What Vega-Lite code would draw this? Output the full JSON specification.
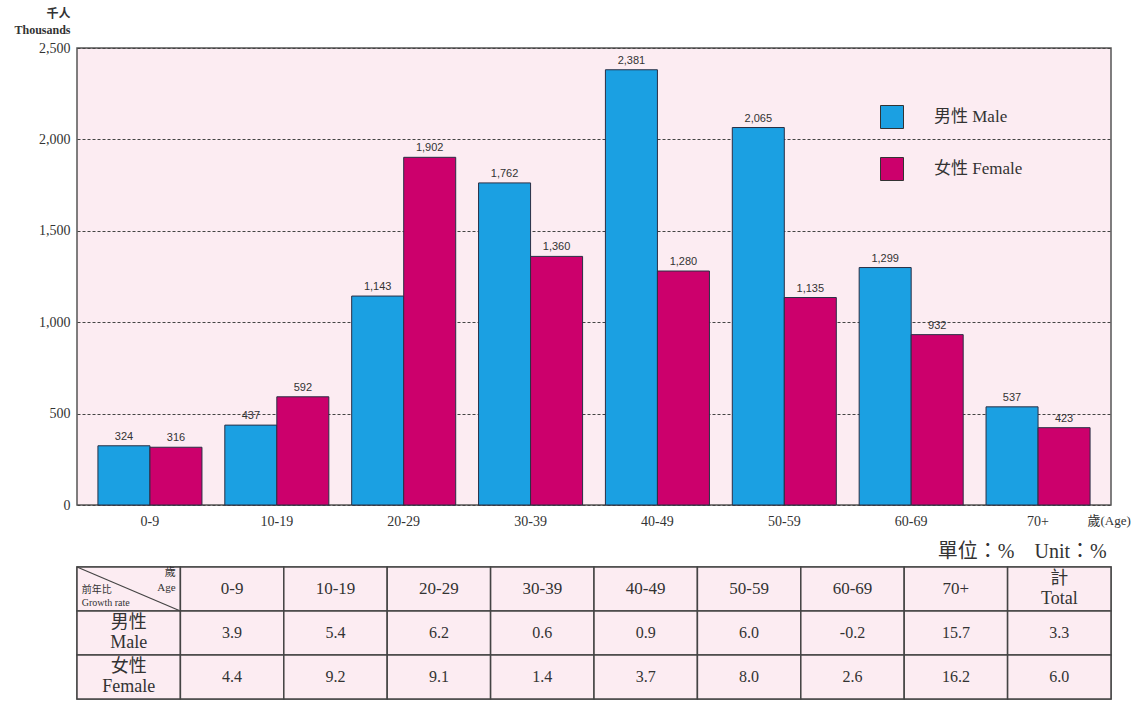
{
  "$schema": "https://vega.github.io/schema/vega-lite/v6.json",
  "padding": {"left": 13, "top": 6, "right": 5, "bottom": 0},
  "background": "white",
  "datasets": {
    "population": [
      {"age": "0-9", "sex": "男性 Male", "thousands": 324},
      {"age": "0-9", "sex": "女性 Female", "thousands": 316},
      {"age": "10-19", "sex": "男性 Male", "thousands": 437},
      {"age": "10-19", "sex": "女性 Female", "thousands": 592},
      {"age": "20-29", "sex": "男性 Male", "thousands": 1143},
      {"age": "20-29", "sex": "女性 Female", "thousands": 1902},
      {"age": "30-39", "sex": "男性 Male", "thousands": 1762},
      {"age": "30-39", "sex": "女性 Female", "thousands": 1360},
      {"age": "40-49", "sex": "男性 Male", "thousands": 2381},
      {"age": "40-49", "sex": "女性 Female", "thousands": 1280},
      {"age": "50-59", "sex": "男性 Male", "thousands": 2065},
      {"age": "50-59", "sex": "女性 Female", "thousands": 1135},
      {"age": "60-69", "sex": "男性 Male", "thousands": 1299},
      {"age": "60-69", "sex": "女性 Female", "thousands": 932},
      {"age": "70+", "sex": "男性 Male", "thousands": 537},
      {"age": "70+", "sex": "女性 Female", "thousands": 423}
    ],
    "table": [
      {"row": "header", "col": "_"},
      {"row": "header", "col": "0-9", "label": "0-9"},
      {"row": "header", "col": "10-19", "label": "10-19"},
      {"row": "header", "col": "20-29", "label": "20-29"},
      {"row": "header", "col": "30-39", "label": "30-39"},
      {"row": "header", "col": "40-49", "label": "40-49"},
      {"row": "header", "col": "50-59", "label": "50-59"},
      {"row": "header", "col": "60-69", "label": "60-69"},
      {"row": "header", "col": "70+", "label": "70+"},
      {"row": "header", "col": "計", "label": ["計", "Total"]},
      {"row": "男性", "col": "_", "label": ["男性", "Male"]},
      {"row": "男性", "col": "0-9", "rate": 3.9},
      {"row": "男性", "col": "10-19", "rate": 5.4},
      {"row": "男性", "col": "20-29", "rate": 6.2},
      {"row": "男性", "col": "30-39", "rate": 0.6},
      {"row": "男性", "col": "40-49", "rate": 0.9},
      {"row": "男性", "col": "50-59", "rate": 6.0},
      {"row": "男性", "col": "60-69", "rate": -0.2},
      {"row": "男性", "col": "70+", "rate": 15.7},
      {"row": "男性", "col": "計", "rate": 3.3},
      {"row": "女性", "col": "_", "label": ["女性", "Female"]},
      {"row": "女性", "col": "0-9", "rate": 4.4},
      {"row": "女性", "col": "10-19", "rate": 9.2},
      {"row": "女性", "col": "20-29", "rate": 9.1},
      {"row": "女性", "col": "30-39", "rate": 1.4},
      {"row": "女性", "col": "40-49", "rate": 3.7},
      {"row": "女性", "col": "50-59", "rate": 8.0},
      {"row": "女性", "col": "60-69", "rate": 2.6},
      {"row": "女性", "col": "70+", "rate": 16.2},
      {"row": "女性", "col": "計", "rate": 6.0}
    ],
    "corner": [
      {"row": "header", "col": "_", "side": "age", "text": ["歲", "Age"]},
      {"row": "header", "col": "_", "side": "rate", "text": ["前年比", "Growth rate"]}
    ],
    "diagonal": [
      {"p": 0, "q": 3},
      {"p": 1, "q": 2}
    ]
  },
  "spacing": 62,
  "bounds": "flush",
  "vconcat": [
    {
      "width": 1034,
      "height": 457,
      "data": {"name": "population"},
      "encoding": {
        "x": {
          "field": "age",
          "type": "nominal",
          "sort": null,
          "scale": {"paddingInner": 0.18, "paddingOuter": 0.165},
          "axis": {
            "title": "歲(Age)",
            "titleX": 1010,
            "titleY": 19,
            "titleAlign": "left",
            "titleBaseline": "alphabetic",
            "titleFontSize": 13,
            "titleFontWeight": "normal",
            "labelAngle": 0,
            "labelPadding": 9,
            "labelFontSize": 14,
            "ticks": false,
            "domain": false,
            "grid": false
          }
        },
        "xOffset": {
          "field": "sex",
          "type": "nominal",
          "sort": ["男性 Male", "女性 Female"],
          "scale": {"paddingInner": 0, "paddingOuter": 0}
        },
        "y": {
          "field": "thousands",
          "type": "quantitative",
          "scale": {"domain": [0, 2500]},
          "axis": {
            "values": [0, 500, 1000, 1500, 2000, 2500],
            "format": ",d",
            "title": ["千人", "Thousands"],
            "titleAngle": 0,
            "titleAlign": "right",
            "titleBaseline": "bottom",
            "titleX": -7,
            "titleY": -28,
            "titleFontSize": 12,
            "titleFontWeight": "bold",
            "titleLineHeight": 16,
            "grid": true,
            "gridDash": [3, 2],
            "gridColor": "#444",
            "gridWidth": 1,
            "ticks": false,
            "domain": false,
            "labelPadding": 7,
            "labelFontSize": 14
          }
        }
      },
      "layer": [
        {
          "mark": {"type": "bar", "stroke": "#2a2f45", "strokeWidth": 1},
          "encoding": {
            "color": {
              "field": "sex",
              "type": "nominal",
              "scale": {"domain": ["男性 Male", "女性 Female"], "range": ["#1ba0e2", "#cc006c"]},
              "legend": {
                "orient": "none",
                "legendX": 803,
                "legendY": 57,
                "title": null,
                "symbolType": "square",
                "symbolSize": 529,
                "symbolStrokeColor": "#333",
                "symbolStrokeWidth": 1,
                "labelFontSize": 17,
                "labelOffset": 30,
                "rowPadding": 24
              }
            }
          }
        },
        {
          "mark": {"type": "text", "dy": -9, "font": "Liberation Sans", "fontSize": 11, "color": "#333"},
          "encoding": {
            "text": {"field": "thousands", "type": "quantitative", "format": ","}
          }
        }
      ]
    },
    {
      "width": 1034,
      "height": 132,
      "title": {
        "text": "單位：%　Unit：%",
        "anchor": "end",
        "fontSize": 20,
        "fontWeight": "normal",
        "color": "#333",
        "offset": 3,
        "dx": -5
      },
      "layer": [
        {
          "data": {"name": "table"},
          "encoding": {
            "x": {
              "field": "col",
              "type": "nominal",
              "scale": {
                "domain": ["_", "0-9", "10-19", "20-29", "30-39", "40-49", "50-59", "60-69", "70+", "計"],
                "paddingInner": 0,
                "paddingOuter": 0
              },
              "axis": null
            },
            "y": {
              "field": "row",
              "type": "nominal",
              "scale": {"domain": ["header", "男性", "女性"], "paddingInner": 0, "paddingOuter": 0},
              "axis": null
            }
          },
          "layer": [
            {
              "mark": {"type": "rect", "fill": "#fcecf2", "stroke": "#444", "strokeWidth": 1.5}
            },
            {
              "transform": [{"filter": "isValid(datum.label) && !isArray(datum.label)"}],
              "mark": {"type": "text", "fontSize": 17, "color": "#333"},
              "encoding": {"text": {"field": "label", "type": "nominal"}}
            },
            {
              "transform": [{"filter": "isArray(datum.label)"}],
              "mark": {"type": "text", "fontSize": 18, "lineHeight": 20, "dy": -10, "color": "#333"},
              "encoding": {"text": {"field": "label", "type": "nominal"}}
            },
            {
              "transform": [{"filter": "isValid(datum.rate)"}],
              "mark": {"type": "text", "fontSize": 16, "color": "#333"},
              "encoding": {"text": {"field": "rate", "type": "quantitative", "format": ".1f"}}
            },
            {
              "data": {"name": "corner"},
              "transform": [{"filter": "datum.side === 'age'"}],
              "mark": {"type": "text", "align": "right", "dx": 47, "dy": -16, "fontSize": 11, "lineHeight": 15, "color": "#333"},
              "encoding": {"text": {"field": "text", "type": "nominal"}}
            },
            {
              "data": {"name": "corner"},
              "transform": [{"filter": "datum.side === 'rate'"}],
              "mark": {"type": "text", "align": "left", "dx": -47, "dy": 1, "fontSize": 10, "lineHeight": 13, "color": "#333"},
              "encoding": {"text": {"field": "text", "type": "nominal"}}
            }
          ]
        },
        {
          "data": {"name": "diagonal"},
          "mark": {"type": "line", "color": "#444", "strokeWidth": 1.2},
          "encoding": {
            "x": {"field": "p", "type": "quantitative", "scale": {"domain": [0, 10]}, "axis": null},
            "y": {"field": "q", "type": "quantitative", "scale": {"domain": [0, 3]}, "axis": null}
          }
        }
      ],
      "resolve": {"scale": {"x": "independent", "y": "independent"}}
    }
  ],
  "config": {
    "font": "Liberation Serif, Noto Sans CJK TC",
    "locale": {"number": {"decimal": ".", "thousands": ",", "grouping": [3], "currency": ["$", ""], "minus": "-"}},
    "view": {"stroke": "#555", "strokeWidth": 1.5, "fill": "#fcecf2"},
    "axis": {"labelColor": "#333", "titleColor": "#333", "labelFont": "Liberation Serif, Noto Sans CJK TC", "titleFont": "Liberation Serif, Noto Sans CJK TC"},
    "legend": {"labelColor": "#333", "labelFont": "Liberation Serif, Noto Sans CJK TC"},
    "title": {"font": "Liberation Serif, Noto Sans CJK TC"},
    "text": {"font": "Liberation Serif, Noto Sans CJK TC"}
  }
}
